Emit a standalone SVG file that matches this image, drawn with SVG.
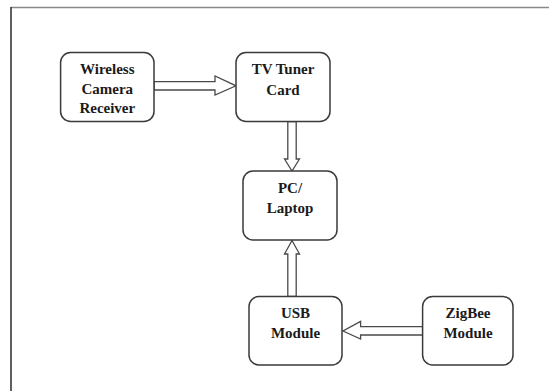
<svg xmlns="http://www.w3.org/2000/svg" width="549" height="391" viewBox="0 0 549 391">
  <style>
    .box { fill: #ffffff; stroke: #3a3a3a; stroke-width: 1.5; }
    .lbl { font-family: "Liberation Serif", "Times New Roman", serif; font-weight: bold; font-size: 15px; fill: #1a1a1a; text-anchor: middle; }
    .arrow { fill: #ffffff; stroke: #4a4a4a; stroke-width: 1.3; stroke-linejoin: miter; }
  </style>
  <rect x="0" y="0" width="549" height="391" fill="#ffffff"/>
  <!-- page frame: top and left edges only -->
  <line x1="11" y1="7.5" x2="549" y2="7.5" stroke="#8a8a8a" stroke-width="1.5"/>
  <line x1="11" y1="7" x2="11" y2="391" stroke="#2a2a2a" stroke-width="1.5"/>

  <g id="connectors">
    <!-- Wireless Camera Receiver -> TV Tuner Card -->
    <polygon class="arrow" points="154,81.6 215,81.6 215,76 236,85.8 215,95 215,90 154,90"/>
    <!-- TV Tuner Card -> PC/Laptop -->
    <polygon class="arrow" points="287.8,121.5 296.2,121.5 296.2,159 299.5,159 292,171 284.5,159 287.8,159"/>
    <!-- USB Module -> PC/Laptop -->
    <polygon class="arrow" points="287.8,296.5 296.2,296.5 296.2,254 299.5,254 292,240.5 284.5,254 287.8,254"/>
    <!-- ZigBee Module -> USB Module -->
    <polygon class="arrow" points="422.6,326.7 360.6,326.7 360.6,321.4 343,331 360.6,339 360.6,335 422.6,335"/>
  </g>

  <g id="wireless-camera-receiver">
    <rect class="box" x="60.6" y="52.5" width="93.4" height="69" rx="10"/>
    <text class="lbl" x="107.3" y="73.5">Wireless</text>
    <text class="lbl" x="107.3" y="93.5">Camera</text>
    <text class="lbl" x="107.3" y="113">Receiver</text>
  </g>

  <g id="tv-tuner-card">
    <rect class="box" x="236" y="52.5" width="94" height="69" rx="10"/>
    <text class="lbl" x="283" y="74">TV Tuner</text>
    <text class="lbl" x="283" y="94.5">Card</text>
  </g>

  <g id="pc-laptop">
    <rect class="box" x="243" y="171" width="94" height="69" rx="10"/>
    <text class="lbl" x="290" y="192.5">PC/</text>
    <text class="lbl" x="290" y="212.5">Laptop</text>
  </g>

  <g id="usb-module">
    <rect class="box" x="249" y="296.5" width="93" height="68.5" rx="10"/>
    <text class="lbl" x="295.5" y="317.5">USB</text>
    <text class="lbl" x="295.5" y="338">Module</text>
  </g>

  <g id="zigbee-module">
    <rect class="box" x="422.6" y="296.5" width="90.4" height="68.5" rx="10"/>
    <text class="lbl" x="468" y="317.5">ZigBee</text>
    <text class="lbl" x="468" y="338">Module</text>
  </g>
</svg>
